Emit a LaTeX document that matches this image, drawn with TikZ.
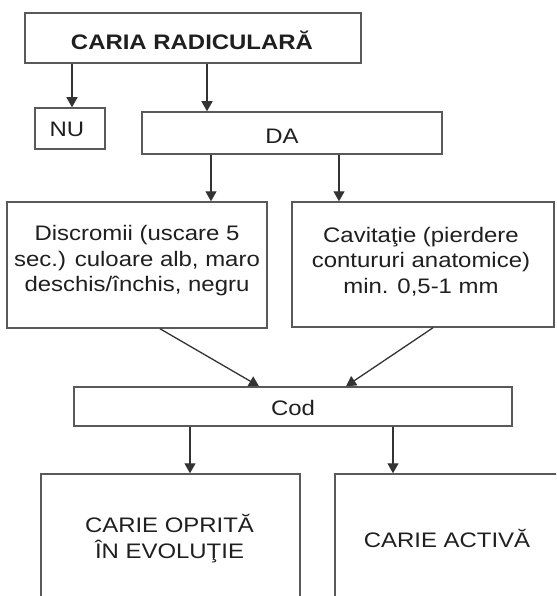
\documentclass[tikz,border=0pt]{standalone}
\usepackage{fontspec}
\setmainfont{Liberation Sans}[FakeStretch=1.14]
\usetikzlibrary{arrows.meta}
\newcommand\mlines[1]{\begin{tabular}[t]{@{}c@{}}#1\end{tabular}}
\begin{document}
\begin{tikzpicture}[x=1pt,y=-1pt,
  box/.style={draw=black!65,line width=1.5pt,rectangle,inner sep=0pt},
  txt/.style={inner sep=0pt,anchor=base,text=black!88,font=\fontsize{21}{25.5}\selectfont},
  arr/.style={draw=black!80,line width=1.3pt,-{Triangle[width=11pt,length=10pt]}}]
\clip (0,0) rectangle (556,596);
\fill[white] (0,0) rectangle (556,596);
% boxes
\node[box,minimum width=336pt,minimum height=50pt] (title) at (193,38) {};
\node[box,minimum width=70pt,minimum height=41pt] (nu) at (70,128.5) {};
\node[box,minimum width=300pt,minimum height=42pt] (da) at (292,133) {};
\node[box,minimum width=260pt,minimum height=126pt] (disc) at (137,265) {};
\node[box,minimum width=262pt,minimum height=125pt] (cav) at (423,264.5) {};
\node[box,minimum width=438pt,minimum height=39pt] (cod) at (293,406.5) {};
\node[box,minimum width=259pt,minimum height=146pt] (stop) at (170.5,547) {};
\node[box,minimum width=245pt,minimum height=146pt] (act) at (457.5,547) {};
% texts
\node[txt,font=\fontsize{21}{25.5}\selectfont\bfseries] (ttitle) at (192,50) {CARIA RADICULARĂ};
\node[txt] (tnu) at (67,137) {NU};
\node[txt] (tda) at (282,143) {DA};
\node[txt] (tdisc) at (137,240.5) {\mlines{Discromii (uscare 5\\sec.) culoare alb, maro\\deschis/închis, negru}};
\node[txt] (tcav) at (421,242) {\mlines{Cavitaţie (pierdere\\contururi anatomice)\\min. 0,5-1 mm}};
\node[txt] (tcod) at (293,415) {Cod};
\node[txt] (tstop) at (169.5,532) {\mlines{CARIE OPRITĂ\\ÎN EVOLUŢIE}};
\node[txt] (tact) at (447,547) {CARIE ACTIVĂ};
% arrow x positions
\coordinate (a1) at (72,0);
\coordinate (a2) at (207,0);
\coordinate (a3) at (211,0);
\coordinate (a4) at (339,0);
\coordinate (d1) at (160,0);
\coordinate (d2) at (259,0);
\coordinate (d3) at (433,0);
\coordinate (d4) at (346,0);
\coordinate (c1) at (190,0);
\coordinate (c2) at (393,0);
% connectors
\draw[arr] (title.south -| a1) -- (nu.north -| a1);
\draw[arr] (title.south -| a2) -- (da.north -| a2);
\draw[arr] (da.south -| a3) -- (disc.north -| a3);
\draw[arr] (da.south -| a4) -- (cav.north -| a4);
\draw[arr] (disc.south -| d1) -- (cod.north -| d2);
\draw[arr] (cav.south -| d3) -- (cod.north -| d4);
\draw[arr] (cod.south -| c1) -- (stop.north -| c1);
\draw[arr] (cod.south -| c2) -- (act.north -| c2);
\end{tikzpicture}
\end{document}
